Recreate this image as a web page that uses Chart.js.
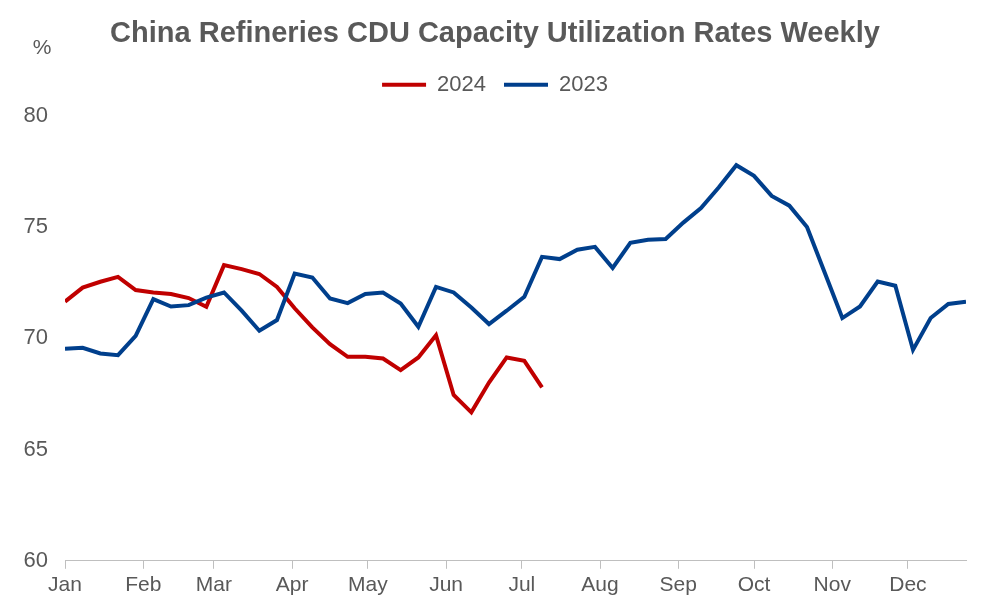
<!DOCTYPE html>
<html>
<head>
<meta charset="utf-8">
<script src="https://cdn.jsdelivr.net/npm/chart.js@4"></script>
<style>
  html, body { margin: 0; padding: 0; background: #fff; }
  #wrap { width: 990px; height: 616px; }
</style>
</head>
<body>
<div id="wrap"><canvas id="lineChart" width="990" height="616"></canvas></div>
<script>
// month labels and the day-of-year where each month starts
const months = ["Jan","Feb","Mar","Apr","May","Jun","Jul","Aug","Sep","Oct","Nov","Dec"];
const monthStart = [0,31,59,90,120,151,181,212,243,273,304,334];

// weekly CDU utilization, %
const util2024 = [71.65,72.28,72.54,72.76,72.17,72.06,71.99,71.81,71.42,73.29,73.11,72.89,72.31,71.35,
                  70.49,69.74,69.17,69.17,69.09,68.57,69.14,70.14,67.45,66.67,68.01,69.14,68.99,67.79];
const util2023 = [69.53,69.57,69.32,69.24,70.11,71.76,71.43,71.49,71.83,72.06,71.24,70.34,70.82,72.91,
                  72.73,71.79,71.58,71.99,72.06,71.56,70.52,72.31,72.06,71.38,70.64,71.24,71.87,73.66,
                  73.56,73.98,74.11,73.16,74.29,74.43,74.46,75.20,75.85,76.78,77.78,77.30,76.40,75.96,
                  75.00,72.96,70.91,71.43,72.55,72.36,69.48,70.91,71.54,71.64];
const yTicks = [60,65,70,75,80];

const toPoints = vals => vals.map((v, i) => ({ x: i * 7, y: v }));
const grey = "#595959";
const font = "'Liberation Sans', Arial, sans-serif";

// "%" unit above the y axis, plus a bit more room under the legend
const extras = {
    id: "extras",
    beforeLayout(chart) {
        const lg = chart.legend;
        if (lg && !lg._tall) {
            const fit = lg.fit;
            lg.fit = function () { fit.call(this); this.height += 10; };
            lg._tall = true;
        }
    },
    afterDraw(chart) {
        const ctx = chart.ctx;
        ctx.save();
        ctx.font = "21px " + font;
        ctx.fillStyle = grey;
        ctx.textAlign = "center";
        ctx.textBaseline = "middle";
        ctx.fillText("%", 42, 48);
        ctx.restore();
    }
};

const line = document.getElementById("lineChart");

new Chart(line, {
    type: "line",
    data: {
        datasets: [{
            label: "2024",
            data: toPoints(util2024),
            borderColor: "#C00000",
            backgroundColor: "#C00000",
            borderWidth: 4,
            pointRadius: 0,
            order: 2
        }, {
            label: "2023",
            data: toPoints(util2023),
            borderColor: "#003F8C",
            backgroundColor: "#003F8C",
            borderWidth: 4,
            pointRadius: 0,
            order: 1
        }]
    },
    options: {
        responsive: false,
        animation: false,
        layout: { padding: { left: 24, right: 24, top: 0, bottom: 14 } },
        plugins: {
            title: {
                display: true,
                text: "China Refineries CDU Capacity Utilization Rates Weekly",
                color: grey,
                font: { family: font, size: 29, weight: "bold" },
                padding: { top: 17, bottom: 4 }
            },
            legend: {
                display: true,
                labels: {
                    color: grey,
                    font: { family: font, size: 22 },
                    usePointStyle: true,
                    pointStyle: "line",
                    pointStyleWidth: 44,
                    padding: 18,
                    sort: (a, b) => a.datasetIndex - b.datasetIndex
                }
            },
            tooltip: { enabled: false }
        },
        scales: {
            x: {
                type: "linear",
                min: 0,
                max: (util2023.length - 1) * 7,
                afterBuildTicks: s => { s.ticks = monthStart.map(v => ({ value: v })); },
                ticks: {
                    autoSkip: false,
                    maxRotation: 0,
                    color: grey,
                    font: { family: font, size: 21 },
                    padding: 4,
                    callback: v => months[monthStart.indexOf(v)]
                },
                grid: { display: true, drawOnChartArea: false, tickLength: 8, color: "#bfbfbf" },
                border: { display: true, color: "#bfbfbf", width: 1 }
            },
            y: {
                min: 60,
                max: 80,
                afterBuildTicks: s => { s.ticks = yTicks.map(v => ({ value: v })); },
                afterFit: s => { s.width = 41; },
                ticks: {
                    color: grey,
                    font: { family: font, size: 22 },
                    padding: 17
                },
                grid: { display: false, drawTicks: false },
                border: { display: false }
            }
        }
    },
    plugins: [extras]
});
</script>
</body>
</html>
